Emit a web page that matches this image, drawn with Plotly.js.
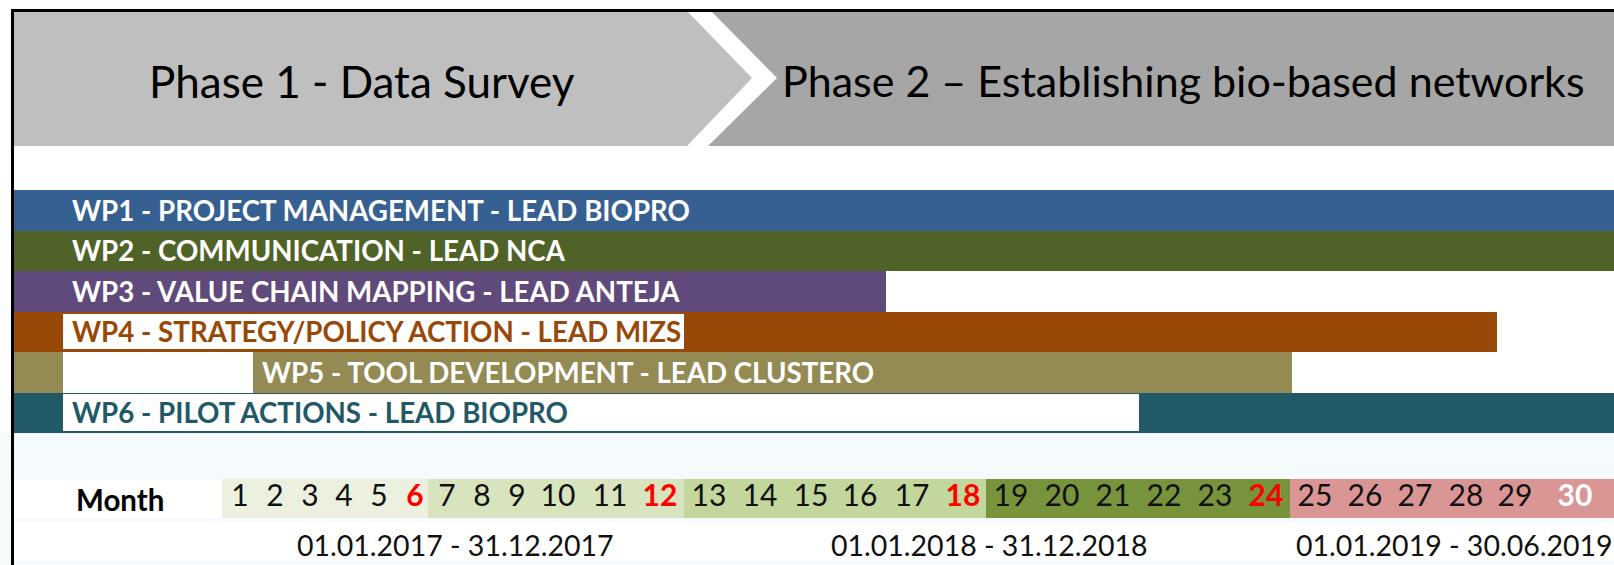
<!DOCTYPE html>
<html>
<head>
<meta charset="utf-8">
<script src="https://cdn.plot.ly/plotly-3.0.1.min.js"></script>
<style>html,body{margin:0;padding:0;background:#fff;}#chart{width:1614px;height:565px;}</style>
</head>
<body>
<div id="chart"></div>
<script>
// ---------- data (timeline units along the slide) ----------
const wpIds = ["WP1", "WP2", "WP3", "WP4", "WP5", "WP6"];
const wpLabels = [
  "WP1 - PROJECT MANAGEMENT - LEAD BIOPRO",
  "WP2 - COMMUNICATION - LEAD NCA",
  "WP3 - VALUE CHAIN MAPPING - LEAD ANTEJA",
  "WP4 - STRATEGY/POLICY ACTION - LEAD MIZS",
  "WP5 - TOOL DEVELOPMENT - LEAD CLUSTERO",
  "WP6 - PILOT ACTIONS - LEAD BIOPRO"
];
const wpStart = [14, 14, 14, 14, 14, 14];
const wpEnd = [1614, 1614, 886, 1497, 1292, 1614];
// inactive (white) stretches inside WP4, WP5, WP6
const gapIds = ["WP4", "WP5", "WP6"];
const gapStart = [63, 63, 63];
const gapEnd = [684, 253, 1139];

const monthNums = [1,2,3,4,5,6,7,8,9,10,11,12,13,14,15,16,17,18,19,20,21,22,23,24,25,26,27,28,29,30];
const monthPos = [240,275,310,344,379,415,447,482,517,558,610,660,709,760,811,860,912,963,1011,1062,1113,1164,1215,1266,1315,1365,1415,1466,1515,1575];
const halfYearStart = [222, 428, 684, 986, 1290];
const halfYearEnd = [428, 684, 986, 1290, 1614];
const periodLabels = ["01.01.2017 - 31.12.2017", "01.01.2018 - 31.12.2018", "01.01.2019 - 30.06.2019"];
const periodHalfYears = [[0, 1], [2, 3], [4, 4]];
const phaseLabels = ["Phase 1 - Data Survey", "Phase 2 \u2013 Establishing bio-based networks"];

// ---------- styles ----------
const W = 1614, H = 565;
const py = v => 1 - v / H;
const FONT = "Lato, 'Open Sans', sans-serif";
const wpColors = ["#366092", "#4F6228", "#604A7B", "#984807", "#948A54", "#215967"];
const wpTextColors = ["#ffffff", "#ffffff", "#ffffff", "#984807", "#ffffff", "#215967"];
const gapWidths = [0.86, 1.0, 0.92];
const halfYearColors = ["#EBF1DE", "#D7E4BD", "#C3D69B", "#77933C", "#DA9694"];
const LABEL_LEFT = 63, LABEL_PAD = 9;

const traces = [];
traces.push({
  type: "bar", orientation: "h", y: wpIds,
  base: wpStart, x: wpEnd.map((e, i) => e - wpStart[i]),
  marker: { color: wpColors, line: { width: 0 } },
  width: 1, hoverinfo: "skip", xaxis: "x", yaxis: "y"
});
traces.push({
  type: "bar", orientation: "h", y: gapIds,
  base: gapStart, x: gapEnd.map((e, i) => e - gapStart[i]),
  marker: { color: "#ffffff", line: { width: 0 } },
  width: gapWidths, hoverinfo: "skip", xaxis: "x", yaxis: "y"
});
traces.push({
  type: "bar", orientation: "h", y: halfYearStart.map(() => "m"),
  base: halfYearStart, x: halfYearEnd.map((e, i) => e - halfYearStart[i]),
  marker: { color: halfYearColors, line: { width: 0 } },
  width: 1, hoverinfo: "skip", xaxis: "x", yaxis: "y2"
});
traces.push({
  type: "scatter", mode: "text", x: monthPos, y: monthNums.map(() => "m"),
  text: monthNums.map(m => (m % 6 === 0 ? "<b>" + m + "</b>" : String(m))),
  textposition: "middle center",
  textfont: {
    family: FONT, size: 30,
    color: monthNums.map(m => (m === 30 ? "#ffffff" : (m % 6 === 0 ? "#FF0000" : "#111111")))
  },
  hoverinfo: "skip", xaxis: "x", yaxis: "y2"
});

const shapes = [
  // light slide background in the lower part
  { type: "rect", xref: "paper", yref: "paper", x0: 0, x1: 1, y0: 0, y1: py(433), fillcolor: "#f5fafd", line: { width: 0 }, layer: "below" },
  { type: "rect", xref: "x", yref: "paper", x0: 14, x1: 1614, y0: py(561), y1: py(523), fillcolor: "#ffffff", line: { width: 0 }, layer: "below" },
  { type: "rect", xref: "x", yref: "paper", x0: 14, x1: 222, y0: py(518), y1: py(479), fillcolor: "#ffffff", line: { width: 0 }, layer: "below" },
  // phase banner chevrons
  { type: "path", xref: "x", yref: "paper", layer: "below",
    path: `M 14,${py(12)} L 688,${py(12)} L 752,${py(78)} L 687,${py(146)} L 14,${py(146)} Z`,
    fillcolor: "#BFBFBF", line: { width: 0 } },
  { type: "path", xref: "x", yref: "paper", layer: "below",
    path: `M 712,${py(12)} L 1614,${py(12)} L 1614,${py(146)} L 708,${py(146)} L 777,${py(78)} Z`,
    fillcolor: "#A6A6A6", line: { width: 0 } },
  // frame
  { type: "rect", xref: "x", yref: "paper", x0: 11, x1: 1614, y0: py(12), y1: py(9), fillcolor: "#000000", line: { width: 0 }, layer: "above" },
  { type: "rect", xref: "x", yref: "paper", x0: 11, x1: 14, y0: 0, y1: py(9), fillcolor: "#000000", line: { width: 0 }, layer: "above" }
];

const annotations = [];
annotations.push({ text: phaseLabels[0], x: 362, xref: "x", y: py(81), yref: "paper", showarrow: false,
  xanchor: "center", yanchor: "middle", font: { family: FONT, size: 44, color: "#000000" } });
annotations.push({ text: phaseLabels[1], x: 1183, xref: "x", y: py(81), yref: "paper", showarrow: false,
  xanchor: "center", yanchor: "middle", font: { family: FONT, size: 43, color: "#000000" } });
wpIds.forEach((id, i) => {
  const gi = gapIds.indexOf(id);
  const onBar = gi >= 0 && (gapEnd[gi] - gapStart[gi]) < 400;
  annotations.push({
    text: "<b>" + wpLabels[i] + "</b>", x: (onBar ? gapEnd[gi] : LABEL_LEFT) + LABEL_PAD - 2, xref: "x",
    y: id, yref: "y", showarrow: false, xanchor: "left", yanchor: "middle",
    font: { family: FONT, size: 27.7, color: wpTextColors[i] }
  });
});
annotations.push({ text: "<b>Month</b>", x: 120, xref: "x", y: py(499), yref: "paper", showarrow: false,
  xanchor: "center", yanchor: "middle", font: { family: FONT, size: 29.5, color: "#000000" } });
periodLabels.forEach((t, i) => {
  const [a, b] = periodHalfYears[i];
  annotations.push({ text: t, x: (halfYearStart[a] + halfYearEnd[b]) / 2 + 2, xref: "x", y: py(545), yref: "paper",
    showarrow: false, xanchor: "center", yanchor: "middle", font: { family: FONT, size: 28.5, color: "#111111" } });
});

const layout = {
  width: W, height: H, autosize: false,
  margin: { l: 0, r: 0, t: 0, b: 0, pad: 0 },
  paper_bgcolor: "#ffffff", plot_bgcolor: "rgba(0,0,0,0)",
  showlegend: false, barmode: "overlay", bargap: 0,
  xaxis: { range: [0, W], domain: [0, 1], visible: false, fixedrange: true },
  yaxis: { type: "category", categoryarray: wpIds, range: [5.5, -0.5], domain: [py(433), py(190)], visible: false, fixedrange: true },
  yaxis2: { type: "category", range: [-0.5, 0.5], domain: [py(518), py(479)], visible: false, fixedrange: true, anchor: "x" },
  shapes: shapes, annotations: annotations
};

Plotly.newPlot("chart", traces, layout, { staticPlot: true, displayModeBar: false });
</script>
</body>
</html>
